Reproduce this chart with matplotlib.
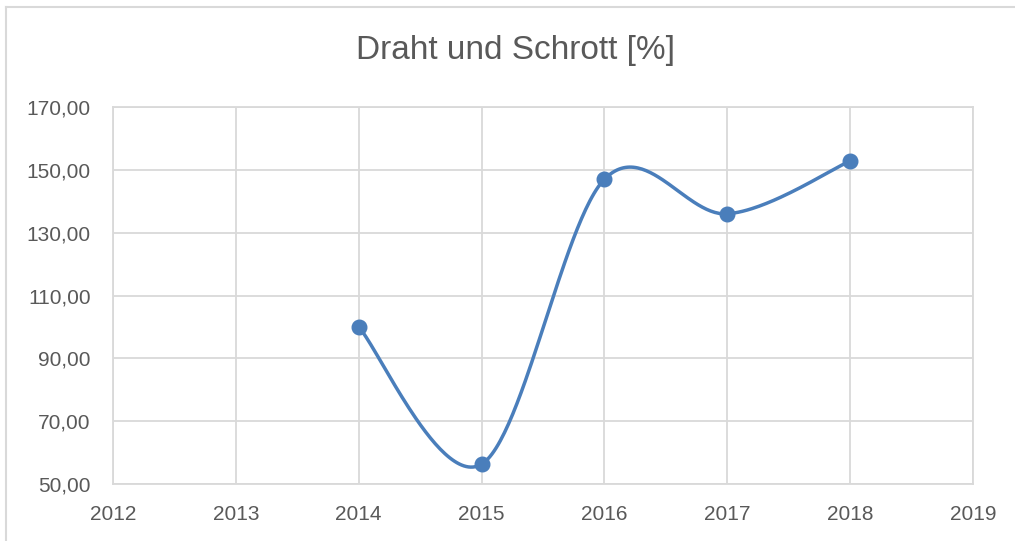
import matplotlib
matplotlib.use('Agg')
import matplotlib.pyplot as plt
import numpy as np
from matplotlib.ticker import FuncFormatter

years = [2014, 2015, 2016, 2017, 2018]
values = [100.0, 56.3, 147.0, 136.0, 152.8]
title = 'Draht und Schrott [%]'

line_color = '#4a7ebb'
text_color = '#595959'
grid_color = '#d9d9d9'


def smooth(xs, ys, n=60):
    # Excel-style smoothed line (Catmull-Rom through the points)
    xs = np.asarray(xs, float)
    ys = np.asarray(ys, float)
    px = np.concatenate([[xs[0]], xs, [xs[-1]]])
    py = np.concatenate([[ys[0]], ys, [ys[-1]]])
    ox, oy = [], []
    t = np.linspace(0, 1, n)
    for i in range(1, len(px) - 2):
        p0, p1, p2, p3 = px[i - 1:i + 3]
        q0, q1, q2, q3 = py[i - 1:i + 3]
        c1x, c1y = p1 + (p2 - p0) / 6, q1 + (q2 - q0) / 6
        c2x, c2y = p2 - (p3 - p1) / 6, q2 - (q3 - q1) / 6
        bx = (1 - t) ** 3 * p1 + 3 * (1 - t) ** 2 * t * c1x + 3 * (1 - t) * t ** 2 * c2x + t ** 3 * p2
        by = (1 - t) ** 3 * q1 + 3 * (1 - t) ** 2 * t * c1y + 3 * (1 - t) * t ** 2 * c2y + t ** 3 * q2
        ox.extend(bx)
        oy.extend(by)
    return ox, oy


plt.rcParams['font.family'] = ['Liberation Sans', 'DejaVu Sans']

fig = plt.figure(figsize=(10.15, 5.41), dpi=100)
ax = fig.add_axes([113 / 1015, 1 - 484 / 541, 860 / 1015, 377 / 541])

sx, sy = smooth(years, values)
ax.plot(sx, sy, color=line_color, lw=2.5, solid_capstyle='round', zorder=3)
ax.plot(years, values, 'o', color=line_color, ms=10.5, zorder=4)

ax.set_xlim(2012, 2019)
ax.set_ylim(50, 170)
ax.set_xticks(range(2012, 2020))
ax.set_yticks(range(50, 171, 20))
ax.yaxis.set_major_formatter(FuncFormatter(lambda v, p: f'{v:.2f}'.replace('.', ',')))
ax.grid(True, color=grid_color, lw=1.3)
ax.set_axisbelow(True)
for s in ax.spines.values():
    s.set_color(grid_color)
    s.set_linewidth(1.3)
ax.tick_params(length=0, labelsize=15, colors=text_color)
ax.tick_params(axis='y', pad=16)
ax.tick_params(axis='x', pad=15)

fig.text(515 / 1015, 1 - 50 / 541, title, ha='center', va='center',
         fontsize=24, color=text_color)

# chart area border (left and top visible)
fig.add_artist(plt.Line2D([6 / 1015, 6 / 1015], [0, 1 - 7 / 541], color=grid_color, lw=1.5))
fig.add_artist(plt.Line2D([6 / 1015, 1], [1 - 7 / 541, 1 - 7 / 541], color=grid_color, lw=1.5))

plt.savefig('out.png', dpi=100)
